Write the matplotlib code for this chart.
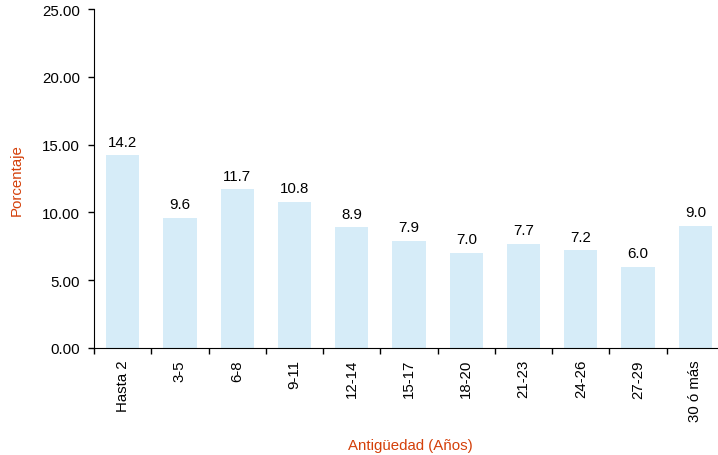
import matplotlib.pyplot as plt
import numpy as np

categorias = ['Hasta 2', '3-5', '6-8', '9-11', '12-14', '15-17', '18-20',
              '21-23', '24-26', '27-29', '30 ó más']
valores = [14.2, 9.6, 11.7, 10.8, 8.9, 7.9, 7.0, 7.7, 7.2, 6.0, 9.0]

rojo = '#D4400A'
azul = '#D6ECF8'

plt.rcParams['font.family'] = ['Liberation Sans', 'DejaVu Sans']

fig = plt.figure(figsize=(7.18, 4.56), dpi=100)
ax = fig.add_axes([94/718, 1 - 349/456, 630/718, 339/456])

x = np.arange(len(categorias))
ax.bar(x, valores, width=0.58, color=azul, zorder=2)
for xi, v in zip(x, valores):
    ax.text(xi, v + 0.5, f'{v:.1f}', ha='center', va='bottom', fontsize=10.8)

ax.set_xlim(-0.5, len(categorias) - 0.5)
ax.set_ylim(0, 25)
ax.set_yticks(np.arange(0, 25.1, 5))
ax.set_yticklabels([f'{t:.2f}' for t in np.arange(0, 25.1, 5)], fontsize=10.8)

# ticks between the categories, labels centred on the bars
ax.set_xticks(np.arange(-0.5, len(categorias), 1))
ax.set_xticklabels([])
ax.set_xticks(x, minor=True)
ax.set_xticklabels(categorias, minor=True, rotation=90, fontsize=10.8)
ax.tick_params(axis='x', which='minor', length=0, pad=8)
ax.tick_params(axis='x', which='major', length=4, width=1)
ax.tick_params(axis='y', length=4, width=1, pad=6)

for s in ['top', 'right']:
    ax.spines[s].set_visible(False)

fig.text(17/718, 1 - 180/456, 'Porcentaje', rotation=90, color=rojo,
         fontsize=10.8, ha='center', va='center')
fig.text(410/718, 1 - 446/456, 'Antigüedad (Años)', color=rojo,
         fontsize=10.8, ha='center', va='center')

fig.savefig('out.png', dpi=100)
